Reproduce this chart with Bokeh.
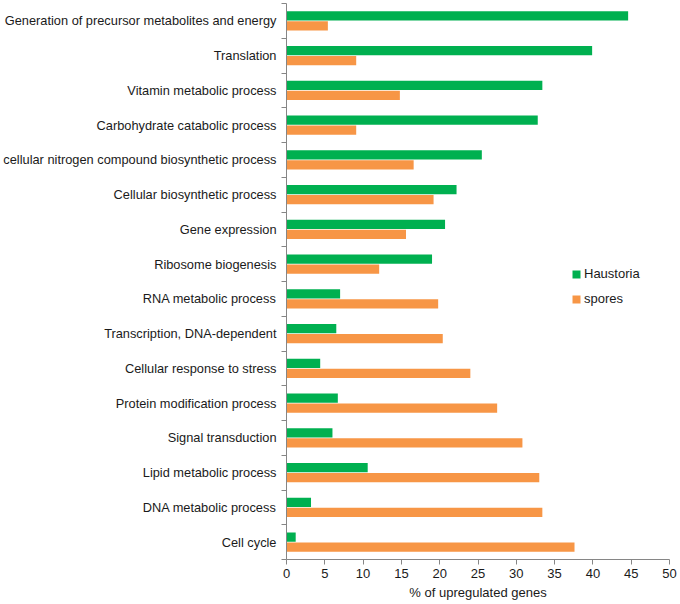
from bokeh.plotting import figure
from bokeh.models import Range1d, FixedTicker, ColumnDataSource, Legend, LegendItem
from bokeh.transform import dodge
from bokeh.embed import file_html
from bokeh.resources import INLINE

categories = [
    "Generation of precursor metabolites and energy",
    "Translation",
    "Vitamin metabolic process",
    "Carbohydrate catabolic process",
    "cellular nitrogen compound biosynthetic process",
    "Cellular biosynthetic process",
    "Gene expression",
    "Ribosome biogenesis",
    "RNA metabolic process",
    "Transcription, DNA-dependent",
    "Cellular response to stress",
    "Protein modification process",
    "Signal transduction",
    "Lipid metabolic process",
    "DNA metabolic process",
    "Cell cycle",
]
haustoria = [44.6, 39.9, 33.4, 32.8, 25.5, 22.2, 20.7, 19.0, 7.0, 6.5, 4.4, 6.7, 6.0, 10.6, 3.2, 1.2]
spores = [5.4, 9.1, 14.8, 9.1, 16.6, 19.2, 15.6, 12.1, 19.8, 20.4, 24.0, 27.5, 30.8, 33.0, 33.4, 37.6]
x_ticks = [0, 5, 10, 15, 20, 25, 30, 35, 40, 45, 50]

n = len(categories)
pos = [i + 0.5 for i in range(n)]
src = ColumnDataSource(dict(cat=categories, pos=pos, h=haustoria, s=spores))

FONT = "Liberation Sans"
TXT = "#1a1a1a"
AX = "#868686"

p = figure(width=680, height=604, x_range=Range1d(0, 50), y_range=Range1d(n, 0),
           output_backend="svg", toolbar_location=None,
           min_border_left=286, min_border_right=11, min_border_top=3, min_border_bottom=45)
p.outline_line_color = None
p.xgrid.visible = False
p.ygrid.visible = False

bh = 0.27
r1 = p.hbar(y=dodge("pos", -0.145, range=p.y_range), left=0, right="h", height=bh,
            source=src, fill_color="#00B050", line_color=None)
r2 = p.hbar(y=dodge("pos", 0.145, range=p.y_range), left=0, right="s", height=bh,
            source=src, fill_color="#F79646", line_color=None)

# x axis
xa = p.xaxis[0]
xa.ticker = FixedTicker(ticks=x_ticks)
xa.axis_line_color = AX
xa.major_tick_line_color = AX
xa.major_tick_out = 5
xa.major_tick_in = 0
xa.minor_tick_line_color = None
xa.major_label_text_font = FONT
xa.major_label_text_font_size = "13px"
xa.major_label_text_color = TXT
xa.major_label_standoff = 4
xa.axis_label = "% of upregulated genes"
xa.axis_label_text_font = FONT
xa.axis_label_text_font_size = "13px"
xa.axis_label_text_font_style = "normal"
xa.axis_label_text_color = TXT
xa.axis_label_standoff = 4

# y axis
ya = p.yaxis[0]
ya.ticker = FixedTicker(ticks=pos, minor_ticks=list(range(n + 1)))
ya.major_label_overrides = {pv: c for pv, c in zip(pos, categories)}
ya.axis_line_color = AX
ya.major_tick_line_color = None
ya.major_tick_out = 0
ya.major_tick_in = 0
ya.minor_tick_line_color = AX
ya.minor_tick_out = 5
ya.minor_tick_in = 0
ya.major_label_text_font = FONT
ya.major_label_text_font_size = "12.8px"
ya.major_label_text_color = TXT
ya.major_label_standoff = 5

legend = Legend(items=[LegendItem(label="Haustoria", renderers=[r1]),
                       LegendItem(label="spores", renderers=[r2])],
                location=(285, 253))
legend.glyph_width = 10
legend.glyph_height = 10
legend.label_text_font = FONT
legend.label_text_font_size = "13px"
legend.label_text_color = TXT
legend.label_standoff = 3
legend.spacing = 10
legend.padding = 0
legend.margin = 0
legend.border_line_color = None
legend.background_fill_alpha = 0
p.add_layout(legend)

open("out.html", "w").write(file_html(p, INLINE))
